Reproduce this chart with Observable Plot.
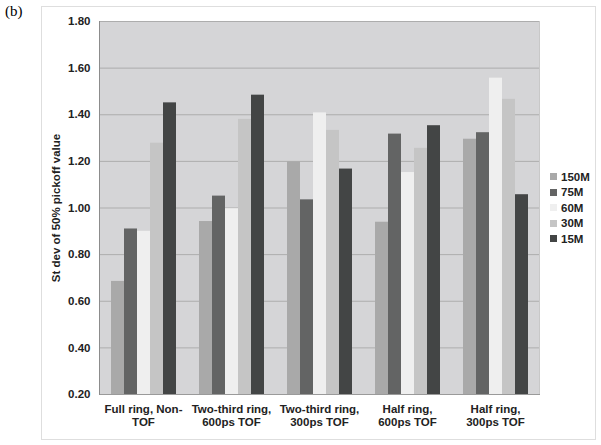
<!DOCTYPE html>
<html>
<head>
<meta charset="utf-8">
<script src="https://cdn.jsdelivr.net/npm/d3@7"></script>
<script src="https://cdn.jsdelivr.net/npm/@observablehq/plot@0.6"></script>
<style>
  body { margin: 0; background: #fff; }
  #wrap { position: relative; width: 601px; height: 445px; overflow: hidden; font-family: "Liberation Sans", Arial, sans-serif; }
  #frame { position: absolute; left: 41px; top: 6px; width: 553px; height: 432px; border: 1px solid #dedede; }
  #tag { position: absolute; left: 5px; top: 3px; font-family: "Liberation Serif", "Times New Roman", serif; font-size: 15px; }
  #legend { position: absolute; left: 550px; top: 169px; font-weight: bold; font-size: 11.5px; }
  #legend .item { display: flex; align-items: center; height: 15.5px; }
  #legend .sw { width: 7px; height: 7px; margin-right: 4px; }
  #chart { position: absolute; left: 0; top: 0; }
</style>
</head>
<body>
<div id="wrap">
  <div id="frame"></div>
  <div id="tag">(b)</div>
  <div id="chart"></div>
  <div id="legend"></div>
</div>
<script>
const categories = ["Full ring, Non-TOF", "Two-third ring, 600ps TOF", "Two-third ring, 300ps TOF", "Half ring, 600ps TOF", "Half ring, 300ps TOF"];
const categoryLabels = ["Full ring, Non-\nTOF", "Two-third ring,\n600ps TOF", "Two-third ring,\n300ps TOF", "Half ring,\n600ps TOF", "Half ring,\n300ps TOF"];
const series = ["150M", "75M", "60M", "30M", "15M"];
const colors = ["#a9a9a9", "#636464", "#efefef", "#c5c5c5", "#434545"];
const v150M = [0.685, 0.942, 1.198, 0.939, 1.295];
const v75M  = [0.910, 1.051, 1.035, 1.317, 1.323];
const v60M  = [0.900, 0.997, 1.408, 1.152, 1.557];
const v30M  = [1.278, 1.380, 1.333, 1.256, 1.466];
const v15M  = [1.451, 1.484, 1.167, 1.353, 1.057];
const yTicks = [0.2, 0.4, 0.6, 0.8, 1.0, 1.2, 1.4, 1.6, 1.8];
const yLabel = "St dev of 50% pickoff value";

const seriesValues = [v150M, v75M, v60M, v30M, v15M];
const data = [];
categories.forEach((c, i) => series.forEach((s, j) => data.push({cat: c, series: s, value: seriesValues[j][i]})));

const chart = Plot.plot({
  width: 601,
  height: 445,
  marginLeft: 99,
  marginRight: 62,
  marginTop: 21,
  marginBottom: 51,
  style: {fontFamily: "'Liberation Sans', Arial, sans-serif", background: "transparent"},
  fx: {domain: categories, padding: 0, label: null, axis: null},
  x: {domain: series, paddingInner: 0, paddingOuter: 0.78, axis: null},
  y: {domain: [0.2, 1.8], axis: null},
  color: {domain: series, range: colors},
  marks: [
    Plot.frame({facet: "super", fill: "#d5d5d7", stroke: null}),
    Plot.gridY(yTicks, {stroke: "#adadad", strokeOpacity: 1, strokeWidth: 1}),
    Plot.barY(data, {fx: "cat", x: "series", y1: 0.2, y2: "value", fill: "series"}),
    Plot.frame({facet: "super", anchor: "right", stroke: "#c8c8c8"}),
    Plot.frame({facet: "super", anchor: "bottom", stroke: "#9a9a9a"}),
    Plot.frame({facet: "super", anchor: "left", stroke: "#8c8c8c"}),
    Plot.axisY(yTicks, {
      anchor: "left",
      tickSize: 0,
      tickPadding: 9,
      tickFormat: d => d.toFixed(2),
      fontSize: 11.5,
      fontWeight: "bold",
      fill: "#222",
      label: yLabel,
      labelAnchor: "center",
      labelArrow: "none",
      labelOffset: 48
    }),
    Plot.axisFx({
      anchor: "bottom",
      tickSize: 0,
      tickPadding: 9,
      tickFormat: d => categoryLabels[categories.indexOf(d)],
      lineHeight: 1.12,
      fontSize: 11.5,
      fontWeight: "bold",
      fill: "#222",
      label: null
    })
  ]
});
document.getElementById("chart").appendChild(chart);

const legend = document.getElementById("legend");
series.forEach((s, i) => {
  const item = document.createElement("div");
  item.className = "item";
  const sw = document.createElement("span");
  sw.className = "sw";
  sw.style.background = colors[i];
  const t = document.createElement("span");
  t.textContent = s;
  t.style.color = "#222";
  item.appendChild(sw);
  item.appendChild(t);
  legend.appendChild(item);
});
</script>
</body>
</html>
